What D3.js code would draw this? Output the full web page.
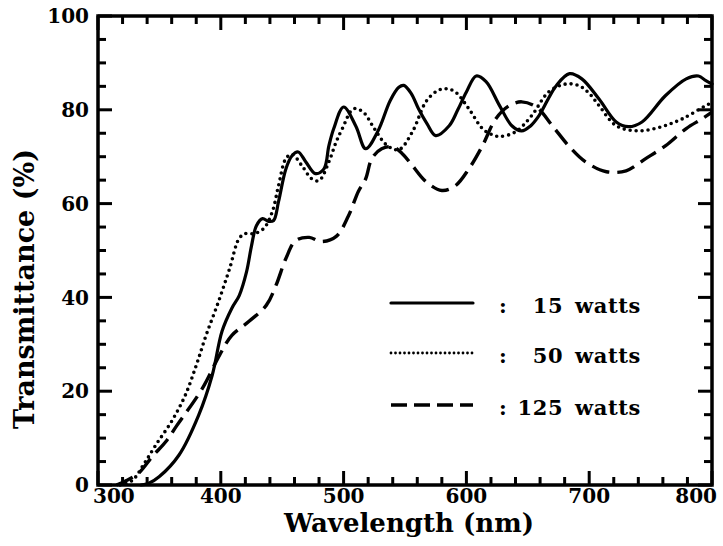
<!DOCTYPE html>
<html>
<head>
<meta charset="utf-8">
<script src="https://cdn.jsdelivr.net/npm/d3@7"></script>
<style>
  html, body { margin: 0; padding: 0; background: #fff; }
  svg { display: block; }
  text { font-family: "DejaVu Serif", serif; font-weight: bold; fill: #000; }
</style>
</head>
<body>
<svg id="chart" width="723" height="546"></svg>
<script>
// ---- data ----
const xMajorTicks = [300, 400, 500, 600, 700, 800];
const yMajorTicks = [0, 20, 40, 60, 80, 100];

const w15 = [335, 341, 350, 366, 382, 393, 401, 409, 415, 421, 425, 429, 434, 439, 443, 447, 453, 458, 463, 469, 477, 484, 488, 492, 500, 510, 518, 528, 538, 545, 549, 555, 561, 568, 575, 586, 593, 600, 608, 616, 627, 637, 645, 652, 659, 673, 684, 694, 708, 722, 732, 743, 762, 779, 789, 795, 800];
const t15 = [0, 0.3, 1.8, 6.4, 14.9, 23.4, 32.8, 37.7, 40.4, 45.5, 51, 55.3, 56.8, 56.2, 56.4, 60.4, 67.4, 70.2, 71, 69, 66.4, 67.4, 72.3, 76, 80.6, 76.5, 71.7, 75.5, 82, 84.8, 85.2, 83.5, 80.2, 77, 74.5, 76.6, 80, 83.8, 87.2, 86, 80.9, 76.6, 75.5, 76.5, 78.7, 85.1, 87.7, 86.6, 82.3, 77.4, 76.4, 77.4, 83, 86.6, 87.2, 86.2, 85.5];

const w50 = [318, 328, 337, 347, 360, 371, 380, 388, 398, 407, 415, 420, 427, 435, 442, 447, 453, 458, 466, 474, 480, 488, 494, 499, 508, 516, 525, 535, 545, 556, 567, 576, 583, 591, 602, 613, 620, 627, 640, 653, 667, 681, 692, 700, 708, 722, 740, 759, 776, 795, 800];
const t50 = [0, 1, 4.3, 8.5, 13.6, 19.1, 25.5, 31.9, 39, 46, 52.6, 53.6, 53.6, 54.7, 58.3, 63.8, 69.6, 70.5, 68.1, 65.3, 64.9, 68.9, 73.2, 76, 80.2, 79.5, 76, 72.5, 71.5, 75.3, 81.7, 84, 84.5, 83.8, 80.2, 76, 74.8, 74.3, 75.3, 78.7, 83.8, 85.5, 85.1, 83.5, 80.9, 76.6, 75.5, 76.4, 78.1, 80.9, 81.5];

const w125 = [315, 322, 333, 344, 356, 364, 385, 399, 409, 423, 437, 445, 453, 461, 472, 482, 494, 504, 512, 518, 523, 531, 540, 548, 556, 567, 580, 591, 602, 613, 624, 635, 645, 657, 670, 684, 697, 714, 730, 746, 762, 779, 792, 800];
const t125 = [0, 0.8, 2.5, 6, 9.5, 12.6, 20.6, 27.7, 31.9, 34.9, 38.3, 42.6, 48.3, 52.1, 52.8, 51.9, 53, 57.4, 62.6, 65.3, 69.6, 71.7, 72.1, 70.6, 68.1, 64.7, 62.8, 63.8, 67.4, 72.3, 78.1, 80.9, 81.7, 80.6, 76.6, 72.1, 68.9, 66.8, 67, 69.6, 72.3, 76, 78.1, 79.5];

const seriesNames = ["15 watts", "50 watts", "125 watts"];
const xTitle = "Wavelength (nm)";
const yTitle = "Transmittance (%)";

// ---- layout ----
const svg = d3.select("#chart");
const L = 98, R = 712, T = 16, B = 485;
const x = d3.scaleLinear().domain([300, 800]).range([L, R]);
const y = d3.scaleLinear().domain([0, 100]).range([B, T]);

const xMinor = d3.range(320, 800, 20).filter(v => v % 100 !== 0);
const yMinor = d3.range(5, 100, 5).filter(v => v % 20 !== 0);
const MAJ = 14, MIN = 8, TW = 3;

// frame
svg.append("path")
  .attr("d", `M${x(300)},${y(0)}H${x(800)}V${y(100)}H${x(300)}Z`)
  .attr("fill", "none").attr("stroke", "#000").attr("stroke-width", 3.5);

// tick labels
svg.append("g").selectAll("text").data(xMajorTicks).join("text")
  .attr("x", (d, i) => i === 0 ? x(d) - 5 : i === xMajorTicks.length - 1 ? x(d) + 5 : x(d))
  .attr("y", y(0) + 18)
  .attr("text-anchor", (d, i) => i === 0 ? "start" : i === xMajorTicks.length - 1 ? "end" : "middle")
  .attr("font-size", 20).text(d => d);
svg.append("g").selectAll("text").data(yMajorTicks).join("text")
  .attr("x", x(300) - 9).attr("y", d => y(d)).attr("dy", "0.36em")
  .attr("text-anchor", "end").attr("font-size", 20).text(d => d);

// titles
svg.append("text").attr("x", 409).attr("y", 532).attr("text-anchor", "middle")
  .attr("font-size", 26).text(xTitle);
svg.append("text").attr("transform", "translate(34,289) rotate(-90)").attr("text-anchor", "middle")
  .attr("font-size", 27).text(yTitle);

// curves
const line = d3.line().x(d => x(d[0])).y(d => y(d[1])).curve(d3.curveCatmullRom.alpha(0.5));
const styles = [
  { dash: null, width: 3.2, cap: "round" },
  { dash: "0,6", width: 3.6, cap: "round" },
  { dash: "18,8", width: 3.4, cap: "butt" }
];
const series = [
  d3.zip(w15, t15),
  d3.zip(w50, t50),
  d3.zip(w125, t125)
];
series.forEach((s, i) => {
  svg.append("path").datum(s).attr("d", line)
    .attr("fill", "none").attr("stroke", "#000")
    .attr("stroke-width", styles[i].width)
    .attr("stroke-linecap", styles[i].cap)
    .attr("stroke-linejoin", "round")
    .attr("stroke-dasharray", styles[i].dash);
});

// legend
const legY = [303, 353, 405];
const legStyles = [
  { dash: null, width: 3.2, cap: "round" },
  { dash: "0,4.5", width: 2.8, cap: "round" },
  { dash: "16,7", width: 3.4, cap: "butt" }
];
seriesNames.forEach((name, i) => {
  svg.append("line").attr("x1", 391).attr("x2", 473).attr("y1", legY[i]).attr("y2", legY[i])
    .attr("stroke", "#000").attr("stroke-width", legStyles[i].width)
    .attr("stroke-linecap", legStyles[i].cap).attr("stroke-dasharray", legStyles[i].dash);
  svg.append("text").attr("x", 503).attr("y", legY[i] + 3).attr("dy", "0.35em")
    .attr("text-anchor", "middle").attr("font-size", 21).text(":");
  svg.append("text").attr("x", 641).attr("y", legY[i] + 3).attr("dy", "0.35em")
    .attr("text-anchor", "end").attr("font-size", 21).attr("letter-spacing", 0.6)
    .attr("word-spacing", 4).text(name);
});

// tick marks, drawn last, same construction as the legend lines (inward on all four sides)
function addTick(x1, y1, x2, y2) {
  svg.append("line").attr("x1", x1).attr("y1", y1).attr("x2", x2).attr("y2", y2)
    .attr("stroke", "#000").attr("stroke-width", TW).attr("stroke-linecap", "butt");
}
[[xMajorTicks, MAJ], [xMinor, MIN]].forEach(([vals, len]) => {
  vals.forEach(v => {
    addTick(x(v), y(0), x(v), y(0) - len);
    addTick(x(v), y(100), x(v), y(100) + len);
  });
});
[[yMajorTicks, MAJ], [yMinor, MIN]].forEach(([vals, len]) => {
  vals.forEach(v => {
    addTick(x(300), y(v), x(300) + len, y(v));
    addTick(x(800), y(v), x(800) - len, y(v));
  });
});
</script>
</body>
</html>
